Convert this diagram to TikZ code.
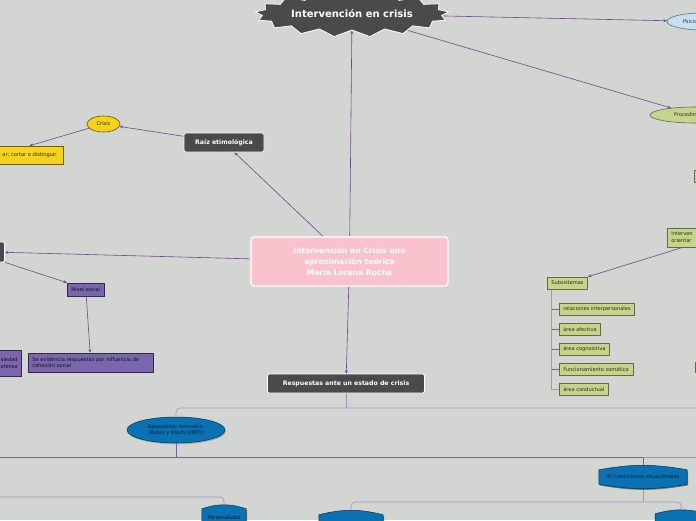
\documentclass[tikz,border=0pt]{standalone}
\usepackage{fontspec}
\setmainfont{DejaVu Sans}
\usetikzlibrary{shapes.geometric,shapes.symbols,arrows.meta,shadows}
\definecolor{bgc}{HTML}{D3D5D2}
\definecolor{dk}{HTML}{4A4A4A}
\definecolor{lnk}{HTML}{6B4A8E}
\definecolor{tl}{HTML}{A895BE}
\definecolor{td}{HTML}{7D6096}
\definecolor{pk}{HTML}{F9C2CD}
\definecolor{yl}{HTML}{F7D21C}
\definecolor{pu}{HTML}{7B66AE}
\definecolor{gr}{HTML}{C5D48B}
\definecolor{bl}{HTML}{0A72B3}
\definecolor{lb}{HTML}{C5DFF3}
\pgfdeclarelayer{back}\pgfdeclarelayer{bg}\pgfdeclarelayer{mid}\pgfsetlayers{back,bg,mid,main}
\newcommand\mycapsule[2]{%
  \fill[black,opacity=.45] ([shift={(0.8,1.2)}]#1.north west) to[bend left=#2] ([shift={(0.8,1.2)}]#1.north east) -- ([shift={(0.8,1.2)}]#1.south east) to[bend left=#2] ([shift={(0.8,1.2)}]#1.south west) -- cycle;
  \filldraw[fill=bl, draw=black!55!bl, line width=0.5pt] (#1.north west) to[bend left=#2] (#1.north east) -- (#1.south east) to[bend left=#2] (#1.south west) -- cycle;}
\begin{document}
\begin{tikzpicture}[x=1pt,y=-1pt,
  darkbox/.style={rectangle, rounded corners=1.5pt, fill=dk, draw=white, line width=0.8pt, text=white, font=\bfseries\fontsize{6.2}{7.5}\selectfont, inner sep=0pt},
  small/.style={font=\fontsize{5.1}{6.8}\selectfont},
  purplebox/.style={rectangle, small, fill=pu, draw=black!60!pu, line width=0.6pt, text=black!85!pu, inner xsep=4pt, inner ysep=1pt, drop shadow={shadow xshift=0.6pt, shadow yshift=-0.8pt, opacity=.35}},
  greenbox/.style={rectangle, small, fill=gr, draw=black!50!gr, line width=0.6pt, text=black!80!gr, inner xsep=4pt, inner ysep=1pt, minimum height=12pt, drop shadow={shadow xshift=0.6pt, shadow yshift=-0.8pt, opacity=.35}},
  yellowbox/.style={rectangle, small, fill=yl, draw=black!55!yl, line width=0.6pt, text=black!80!yl, inner sep=1pt, drop shadow={shadow xshift=0.6pt, shadow yshift=-0.8pt, opacity=.35}},
  bluetext/.style={rectangle, small, text=black!80!bl, inner sep=0pt, align=center},
  link/.style={draw=lnk, line width=0.6pt, -{Stealth[length=3.5pt,width=3pt]}},
  treel/.style={draw=tl, line width=0.7pt},
  treed/.style={draw=td, line width=0.7pt}]
\begin{pgfonlayer}{back}
\fill[bgc] (0,0) rectangle (696,520);
\end{pgfonlayer}
\useasboundingbox (0,0) rectangle (696,520);
\coordinate (ya) at (0,408);
\coordinate (yb) at (0,457);
\coordinate (yc) at (0,497);
\coordinate (yd) at (0,502);
\coordinate (xr) at (705,0);
\coordinate (xl) at (-5,0);

% star
\node[starburst, starburst points=17, starburst point height=7pt, random starburst=0, fill=dk, draw=white, line width=0.8pt, text=white, font=\bfseries\fontsize{10}{12}\selectfont, minimum width=194pt, minimum height=46pt, inner sep=0pt] (star) at (352,14) {Intervención en crisis};

% center
\node[rectangle, rounded corners=3pt, fill=pk, draw=white, line width=1.2pt, text=white, font=\bfseries\fontsize{7.6}{11}\selectfont, align=center, minimum width=197pt, minimum height=49pt, inner sep=0pt] (ctr) at (349.5,261.5) {Intervención en Crisis una\\aproximación teórica\\ Maria Lorena Rocha};

\node[darkbox, minimum width=80pt, minimum height=19pt] (raiz) at (224,142.5) {Raíz etimológica};
\node[darkbox, minimum width=157pt, minimum height=19pt] (resp) at (346,383.5) {Respuestas ante un estado de crisis};
\node[darkbox, minimum width=22pt, minimum height=20pt, anchor=east] (lbox) at (5,252) {};

\node[ellipse, fill=yl, draw=black!60!yl, line width=0.6pt, small, text=black!80!yl, minimum width=33pt, minimum height=16pt, inner sep=0pt] (crisis) at (103.5,124) {Crisis};
\node[yellowbox, minimum width=67pt, minimum height=18pt] (cut) at (29.5,155) {ar; cortar o distinguir};

\node[purplebox, anchor=west, minimum height=13pt] (nivel) at (67,289.5) {Nivel social};
\node[purplebox, anchor=west, text width=117pt, align=left, minimum height=19pt] (evid) at (28,362.5) {Se evidencia respuestas por influencia de\\cohesión social};
\node[purplebox, anchor=east, text width=22pt, align=right, minimum height=26pt] (lpur) at (22,363) {siedad\\efensa};

\node[ellipse, fill=lb, draw=black!50!lb, line width=0.6pt, small, text=black!80, minimum width=72pt, minimum height=17pt, inner sep=0pt, text width=40pt, align=left] (psico) at (703,21.5) {Psico};
\node[ellipse, fill=gr, draw=black!50!gr, line width=0.6pt, small, text=black!80, minimum width=90pt, minimum height=16pt, inner sep=0pt, text width=42pt, align=left] (proc) at (695,115) {Procedim};
\node[greenbox, anchor=west, minimum width=20pt] (gs1) at (694,176) {};
\node[greenbox, anchor=west, text width=40pt, align=left, minimum height=19pt] (interv) at (667,237.5) {Interven\\orientar};
\node[greenbox, anchor=west, minimum width=20pt, minimum height=10pt] (gs2) at (694.5,367.5) {};

\node[greenbox, anchor=west] (subs) at (547,283) {Subsistemas};
\node[greenbox, anchor=west] (c1) at (559,309) {relaciones interpersonales};
\node[greenbox, anchor=west] (c2) at (559,329) {área afectiva};
\node[greenbox, anchor=west] (c3) at (559,349) {área cognositiva};
\node[greenbox, anchor=west] (c4) at (559,369) {Funcionamiento somático};
\node[greenbox, anchor=west] (c5) at (559,389) {área conductual};

\node[ellipse, fill=bl, draw=black!55!bl, line width=0.5pt, small, text=black!80!bl, align=center, minimum width=98pt, minimum height=26pt, inner sep=0pt, drop shadow={shadow xshift=0.8pt, shadow yshift=-1.3pt, opacity=.5}] (rnorm) at (176,430) {Respuestas normales.\\(Rubin y Bloch (2001)};
\node[bluetext, minimum width=44pt, minimum height=18pt] (pers) at (224,518) {Personalidad};
\node[bluetext, minimum width=64pt, minimum height=22pt] (blue2) at (351,526) {};
\node[bluetext, minimum width=52pt, minimum height=22pt, anchor=west] (blue3) at (655,525) {};
\node[bluetext, minimum width=88pt, minimum height=14pt] (cond) at (643,477) {2) Condiciones situacionales};

\begin{pgfonlayer}{mid}
\mycapsule{pers}{18}
\mycapsule{blue2}{14}
\mycapsule{blue3}{15}
\mycapsule{cond}{10}
\end{pgfonlayer}

\begin{pgfonlayer}{bg}
\draw[link] (ctr) -- (star);
\draw[link] (ctr) -- (raiz);
\draw[link] (raiz) -- (crisis);
\draw[link] (crisis) -- (cut.north);
\draw[link] (ctr) -- (lbox);
\draw[link] (lbox.south east) -- (nivel.north west);
\draw[link] (nivel) -- (evid);
\draw[link] (ctr) -- (resp);
\draw[link] (star) -- (psico);
\draw[link] (star) -- (proc);
\draw[link] ([xshift=16pt]interv.south west) -- (subs.north east);
\foreach \c in {c1,c2,c3,c4} \draw[treed] ([xshift=4pt]subs.south west) |- (\c.west);
\draw[treel] ([xshift=4pt]subs.south west) |- (c5.west);
\draw[treel] (resp.south) -- (resp.south |- ya);
\draw[treel, rounded corners=4pt] (rnorm.north) -- (rnorm.north |- ya) -- (xr |- ya);
\draw[treed] (rnorm.south) -- (rnorm.south |- yb);
\draw[treed] (xl |- yb) -- (cond.north |- yb) -- (cond.north);
\draw[treel] (cond.north |- yb) -- (xr |- yb);
\draw[treel, rounded corners=4pt] (xl |- yc) -- (pers.north |- yc) -- (pers.north);
\draw[treel] (cond.south) -- (cond.south |- yd);
\draw[treel, rounded corners=4pt] (blue2.north) -- (blue2.north |- yd) -- (blue3.north |- yd) -- (blue3.north);
\end{pgfonlayer}
\end{tikzpicture}
\end{document}
